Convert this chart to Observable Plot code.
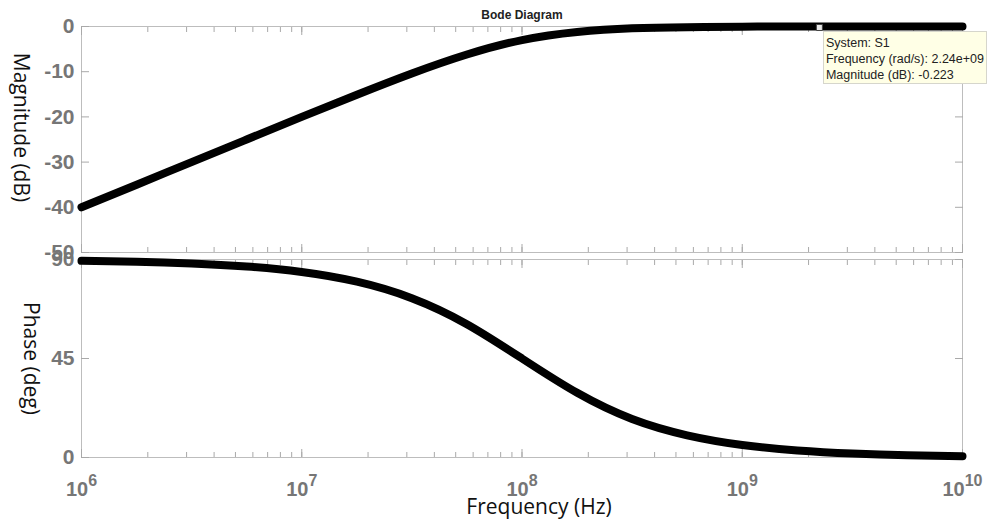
<!DOCTYPE html>
<html>
<head>
<meta charset="utf-8">
<script src="https://cdn.jsdelivr.net/npm/d3@7"></script>
<script src="https://cdn.jsdelivr.net/npm/@observablehq/plot@0.6"></script>
<style>
  body { margin: 0; background: #fff; }
  #wrap { position: relative; width: 990px; height: 525px; overflow: hidden; background: #fff; }
  #wrap svg { position: absolute; left: 0; }
  #tip {
    position: absolute; box-sizing: border-box; width: 164px; height: 53px;
    background: #ffffe6; border: 1px solid #d6d6cc;
    font: 12.5px "Liberation Sans", Arial, sans-serif; line-height: 16px; color: #222;
    padding: 3px 0 0 2px; white-space: nowrap;
  }
</style>
</head>
<body>
<div id="wrap"></div>
<script>
// ---- data ----
const freqHz   = [1e6, 1.78e6, 3.16e6, 5.62e6, 1e7, 1.78e7, 3.16e7, 5.62e7, 1e8, 1.78e8, 3.16e8, 5.62e8, 1e9, 1.78e9, 3.16e9, 5.62e9, 1e10];
const magDb    = [-40.0, -35.0, -30.0, -25.0, -20.0, -15.1, -10.4, -6.2, -3.0, -1.2, -0.4, -0.14, -0.04, -0.01, 0, 0, 0];
const phaseDeg = [89.4, 89.0, 88.2, 86.8, 84.3, 79.9, 72.4, 60.6, 45.0, 29.4, 17.5, 10.1, 5.7, 3.2, 1.8, 1.0, 0.6];
const xTicks     = [1e6, 1e7, 1e8, 1e9, 1e10];
const magTicks   = [0, -10, -20, -30, -40, -50];
const phaseTicks = [0, 45, 90];
const titleText  = "Bode Diagram";
const magLabel   = "Magnitude (dB)";
const phaseLabel = "Phase (deg)";
const xLabel     = "Frequency (Hz)";
const tipFreq = [2.24e9];
const tipMag  = [-0.223];
const tipLines = ["System: S1", "Frequency (rad/s): 2.24e+09", "Magnitude (dB): -0.223"];

const rows = freqHz.map((f, i) => ({f, mag: magDb[i], phase: phaseDeg[i]}));
const tipRows = tipFreq.map((f, i) => ({f, mag: tipMag[i]}));

const W = 990, ML = 81, MR = 28;
const sans = "'Liberation Sans', Arial, Helvetica, sans-serif";
const labelSans = "'Open Sans', 'Noto Sans', sans-serif";
const tickCol = "#a9a9a9", frameCol = "#bdbdbd", labCol = "#767676";

function frameMarks(yTicks) {
  return [
    Plot.frame({stroke: frameCol}),
    Plot.axisX({anchor: "bottom", tickSize: 5, dy: -5, fill: "none", stroke: tickCol, label: null}),
    Plot.axisX({anchor: "bottom", ticks: xTicks, tickSize: 8, dy: -8, fill: "none", stroke: tickCol, label: null}),
    Plot.axisX({anchor: "top", tickSize: 5, dy: 5, fill: "none", stroke: tickCol, label: null}),
    Plot.axisX({anchor: "top", ticks: xTicks, tickSize: 8, dy: 8, fill: "none", stroke: tickCol, label: null}),
    Plot.axisY({anchor: "left", ticks: yTicks, tickSize: 8, dx: 8, fill: "none", stroke: tickCol, label: null}),
    Plot.axisY({anchor: "right", ticks: yTicks, tickSize: 8, dx: -8, fill: "none", stroke: tickCol, label: null}),
    Plot.axisY({anchor: "left", ticks: yTicks, tickSize: 0, tickPadding: 7, fill: labCol, fontWeight: "bold",
                fontSize: 21, fontFamily: sans, label: null, tickFormat: d => String(d)})
  ];
}

const magPlot = Plot.plot({
  width: W, height: 256, marginLeft: ML, marginRight: MR, marginTop: 26, marginBottom: 4,
  style: {background: "transparent", overflow: "visible"},
  x: {type: "log", domain: [1e6, 1e10]},
  y: {domain: [-50, 0]},
  marks: [
    ...frameMarks(magTicks),
    Plot.line(rows, {x: "f", y: "mag", stroke: "#000", strokeWidth: 8, curve: "natural"}),
    Plot.dot(tipRows, {x: "f", y: "mag", symbol: "square", r: 3.4, stroke: "#444", fill: "#e8e8e8", strokeWidth: 1}),
    Plot.text([titleText], {frameAnchor: "top", dy: -8, lineAnchor: "bottom", fontWeight: "bold", fontSize: 12,
                            fontFamily: sans, fill: "#222"}),
    Plot.text([magLabel], {frameAnchor: "left", textAnchor: "middle", rotate: 90, dx: -61, dy: -12, fontSize: 21,
                           fontFamily: labelSans, fill: "#111"})
  ]
});
magPlot.style.top = "0px";

const phasePlot = Plot.plot({
  width: W, height: 269, marginLeft: ML, marginRight: MR, marginTop: 3, marginBottom: 68,
  style: {background: "transparent", overflow: "visible"},
  x: {type: "log", domain: [1e6, 1e10]},
  y: {domain: [0, 90]},
  marks: [
    ...frameMarks(phaseTicks),
    Plot.axisX({anchor: "bottom", ticks: xTicks, tickSize: 0, tickPadding: 24, fill: labCol, fontWeight: "bold",
                fontSize: 20, fontFamily: sans, label: null,
                tickFormat: d => "10^" + Math.round(Math.log10(d))}),
    Plot.line(rows, {x: "f", y: "phase", stroke: "#000", strokeWidth: 8, curve: "natural"}),
    Plot.text([phaseLabel], {frameAnchor: "left", textAnchor: "middle", rotate: 90, dx: -51, fontSize: 21,
                             fontFamily: labelSans, fill: "#111"}),
    Plot.text([xLabel], {frameAnchor: "bottom", textAnchor: "middle", dy: 56, dx: 17, lineAnchor: "bottom", fontSize: 21,
                         fontFamily: labelSans, fill: "#111"})
  ]
});
phasePlot.style.top = "256px";

d3.select(phasePlot).selectAll("text").each(function () {
  const m = /^10\^(\d+)$/.exec(this.textContent);
  if (m) {
    const t = d3.select(this);
    t.text("10");
    t.append("tspan").attr("dy", "-10").attr("font-size", "16").text(m[1]);
  }
});

const wrap = document.getElementById("wrap");
wrap.appendChild(magPlot);
wrap.appendChild(phasePlot);

const tip = document.createElement("div");
tip.id = "tip";
const tx = magPlot.scale("x").apply(tipFreq[0]);
const ty = magPlot.scale("y").apply(tipMag[0]);
tip.style.left = (tx + 4) + "px";
tip.style.top = (ty + 4) + "px";
tip.innerHTML = tipLines.map(s => `<div>${s}</div>`).join("");
wrap.appendChild(tip);
</script>
</body>
</html>
